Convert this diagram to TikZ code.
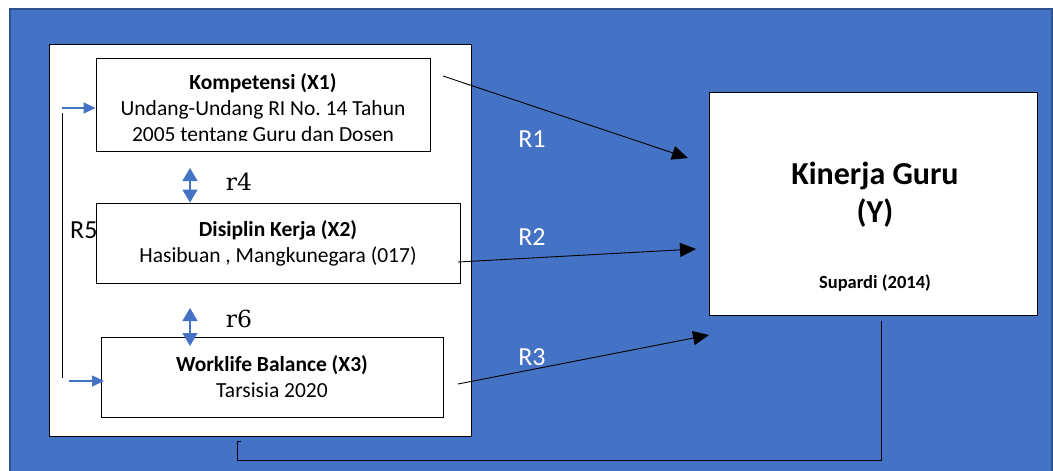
\documentclass[tikz,border=0pt]{standalone}
\usepackage{fontspec}
\newfontfamily\calibri{Carlito}
\newfontfamily\cambria{DejaVu Serif}
\usetikzlibrary{arrows.meta,positioning}
\definecolor{officeblue}{HTML}{4472C4}
\definecolor{edgeblue}{HTML}{2F528F}

\begin{document}
\begin{tikzpicture}[x=1pt,y=-1pt,
  varbox/.style={draw=black,fill=white,line width=0.9pt,align=center,inner sep=0pt},
  txt/.style={font=\calibri\fontsize{21.5}{26}\selectfont},
  effect/.style={black,line width=0.9pt,-{Triangle[length=16pt,width=14pt]}},
  corr/.style={officeblue,line width=1.2pt,{Triangle[length=13pt,width=15pt]}-{Triangle[length=13pt,width=15pt]}},
  feed/.style={officeblue,line width=1.5pt,-{Triangle[length=12pt,width=11pt]}},
  rlab/.style={font=\calibri\fontsize{26}{30}\selectfont,text=white},
  corrlab/.style={font=\cambria\fontsize{23.5}{28}\selectfont}]
\useasboundingbox (0,0) rectangle (1053,471);
\fill[white] (0,0) rectangle (1053,471);
\filldraw[fill=officeblue,draw=edgeblue,line width=1.5pt] (10,9) rectangle (1052,476);

% variabel bebas
\node[varbox,minimum width=422pt,minimum height=392pt] (frame) at (260,240) {};
\node[varbox,minimum width=334pt,minimum height=93pt] (x1) at (263,104.5) {};
\begin{scope}
  \clip (x1.north west) rectangle (430,140);
  \node[txt,align=center] (x1t) at (263,109)
    {\textbf{Kompetensi (X1)}\\Undang-Undang RI No.\ 14 Tahun\\2005 tentang Guru dan Dosen};
\end{scope}
\node[font=\calibri\fontsize{26}{30}\selectfont,anchor=west,inner sep=0pt] (r5) at (70,230) {R5};
\node[varbox,txt,minimum width=364pt,minimum height=80pt] (x2) at (278,243)
  {\textbf{Disiplin Kerja (X2)}\\Hasibuan , Mangkunegara (017)};
\node[varbox,txt,minimum width=342pt,minimum height=80pt] (x3) at (272,377)
  {\textbf{Worklife Balance (X3)}\\Tarsisia 2020};

% variabel terikat
\node[varbox,minimum width=328pt,minimum height=223pt] (y) at (873,203.5) {};
\node[font=\calibri\bfseries\fontsize{32}{38}\selectfont,align=center] (ytitle) at (875,195) {Kinerja Guru\\(Y)};
\node[font=\calibri\bfseries\fontsize{18.5}{22}\selectfont] (ysrc) at (875,283) {Supardi (2014)};

% korelasi
\coordinate (c4) at (190,168);
\coordinate (c6) at (190,308);
\draw[corr] (c4) -- (c4 |- x2.north);
\draw[corr] (c6) -- ++(0,38);
\node[corrlab] (r4) at (239,182) {r4};
\node[corrlab] (r6) at (239,319) {r6};

% R5
\coordinate (r5a) at (62,108);
\coordinate (r5b) at (69,381);
\draw[black,line width=0.9pt] (62,113) -- (62,378);
\draw[feed] (r5a) -- (x1.west |- r5a);
\draw[feed] (r5b) -- (104,381);

% pengaruh ke Y
\node[rlab] (l1) at (532,139) {R1};
\node[rlab] (l2) at (532,237) {R2};
\node[rlab] (l3) at (532,357) {R3};
\coordinate (r1s) at (443,76);
\coordinate (r2s) at (458,262);
\coordinate (r3s) at (458,384);
\coordinate (r1e) at (688,158);
\coordinate (r2e) at (696,249);
\coordinate (r3e) at (709,335);
\draw[effect] (r1s) -- (r1e);
\draw[effect] (r2s) -- (r2e);
\draw[effect] (r3s) -- (r3e);

% umpan balik
\coordinate (fb) at (881,321);
\draw[black,line width=0.9pt] (fb) -- (881,460) -- (237,460) -- (237,441) -- (241,441);
\end{tikzpicture}
\end{document}
